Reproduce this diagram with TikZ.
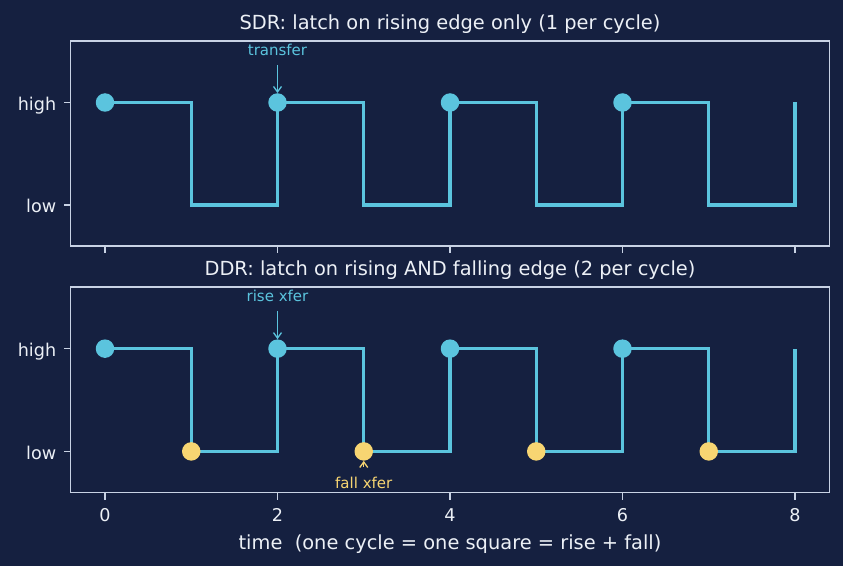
\documentclass[tikz,border=0pt]{standalone}
\usepackage{fontspec}
\setmainfont{DejaVu Sans}
\usetikzlibrary{arrows.meta}
\usetikzlibrary{positioning,calc}

\definecolor{bgnavy}{RGB}{21,32,64}
\definecolor{sigcyan}{RGB}{91,196,222}
\definecolor{fallgold}{RGB}{247,213,114}
\definecolor{framegray}{RGB}{200,210,228}
\definecolor{txtwhite}{RGB}{236,240,246}

\begin{document}
\begin{tikzpicture}[x=1pt,y=1pt,
         frame/.style      = {draw=framegray, line width=1.6pt},
         tickmark/.style   = {framegray, line width=1.6pt},
         signal/.style     = {sigcyan, line width=3.2pt},
         risedot/.style    = {circle, fill=sigcyan, inner sep=0pt, minimum size=18.5pt},
         falldot/.style    = {circle, fill=fallgold, inner sep=0pt, minimum size=18.5pt},
         ticklabel/.style  = {text=txtwhite, inner sep=0pt, font=\fontsize{17.6}{21}\selectfont},
         paneltitle/.style = {text=txtwhite, inner sep=0pt, anchor=base, font=\fontsize{19.4}{23}\selectfont},
         note/.style       = {inner sep=0pt, font=\fontsize{15}{18}\selectfont},
         pointer/.style    = {-{Straight Barb[length=5.5pt,width=8pt]}, line width=1.3pt}
]

      % background and page size
      \fill[bgnavy] (0,0) rectangle (843,566);
      \useasboundingbox (0,0) rectangle (843,566);

      % SDR panel
      \begin{scope}[shift={(105pt,361pt)}, x=86.25pt, y=102.5pt]
         \draw[frame] (-0.4,-0.4) rectangle (8.4,1.6);
         \node[paneltitle, yshift=11.7pt] (sdrtitle) at (4,1.6)
            {SDR: latch on rising edge only (1 per cycle)};

         % ticks
         \draw[tickmark] (-0.4,1) -- ++(-7pt,0)
            node[ticklabel, anchor=base east, xshift=-6.5pt, yshift=-8pt] (sdrhigh) {high};
         \draw[tickmark] (-0.4,0) -- ++(-7pt,0)
            node[ticklabel, anchor=base east, xshift=-6.5pt, yshift=-8pt] (sdrlow) {low};
         \foreach \k in {0,2,...,8}
            \draw[tickmark] (\k,-0.4) -- ++(0,-7pt);

         % clock
         \draw[signal] (0,1) \foreach \k in {0,2,4,6} {
            -- (\k+1,1) -- (\k+1,0) -- (\k+2,0) -- (\k+2,1) };

         % latch points
         \foreach \k in {0,2,4,6}
            \node[risedot] (sdr\k) at (\k,1) {};

         \node[note, text=sigcyan, above=37.25pt of sdr2] (sdrnote) {transfer};
         \draw[pointer, sigcyan, shorten <=9pt] (sdrnote) -- (sdr2);
      \end{scope}

      % DDR panel
      \begin{scope}[shift={(105pt,114.6pt)}, x=86.25pt, y=102.75pt]
         \draw[frame] (-0.4,-0.4) rectangle (8.4,1.6);
         \node[paneltitle, yshift=11.7pt] (ddrtitle) at (4,1.6)
            {DDR: latch on rising AND falling edge (2 per cycle)};

         % ticks
         \draw[tickmark] (-0.4,1) -- ++(-7pt,0)
            node[ticklabel, anchor=base east, xshift=-6.5pt, yshift=-8pt] (ddrhigh) {high};
         \draw[tickmark] (-0.4,0) -- ++(-7pt,0)
            node[ticklabel, anchor=base east, xshift=-6.5pt, yshift=-8pt] (ddrlow) {low};
         \foreach \k in {0,2,...,8} {
            \draw[tickmark] (\k,-0.4) -- ++(0,-7pt);
            \node[ticklabel, anchor=base, yshift=-29.3pt] (xt\k) at (\k,-0.4) {\k};
         }
         \node[paneltitle, yshift=-56.6pt] (xaxislabel) at (4,-0.4)
            {time\ \ (one cycle = one square = rise + fall)};

         % clock
         \draw[signal] (0,1) \foreach \k in {0,2,4,6} {
            -- (\k+1,1) -- (\k+1,0) -- (\k+2,0) -- (\k+2,1) };

         % latch points, rising and falling
         \foreach \k in {0,2,4,6}
            \node[risedot] (ddr\k) at (\k,1) {};
         \foreach \k in {1,3,5,7}
            \node[falldot] (ddr\k) at (\k,0) {};

         \node[note, text=sigcyan, above=37.25pt of ddr2] (risenote) {rise xfer};
         \draw[pointer, sigcyan, shorten <=9pt] (risenote) -- (ddr2);

         \node[note, text=fallgold, below=16pt of ddr3] (fallnote) {fall xfer};
         \draw[pointer, fallgold, shorten <=10pt] (fallnote) -- (ddr3);
      \end{scope}

\end{tikzpicture}
\end{document}
